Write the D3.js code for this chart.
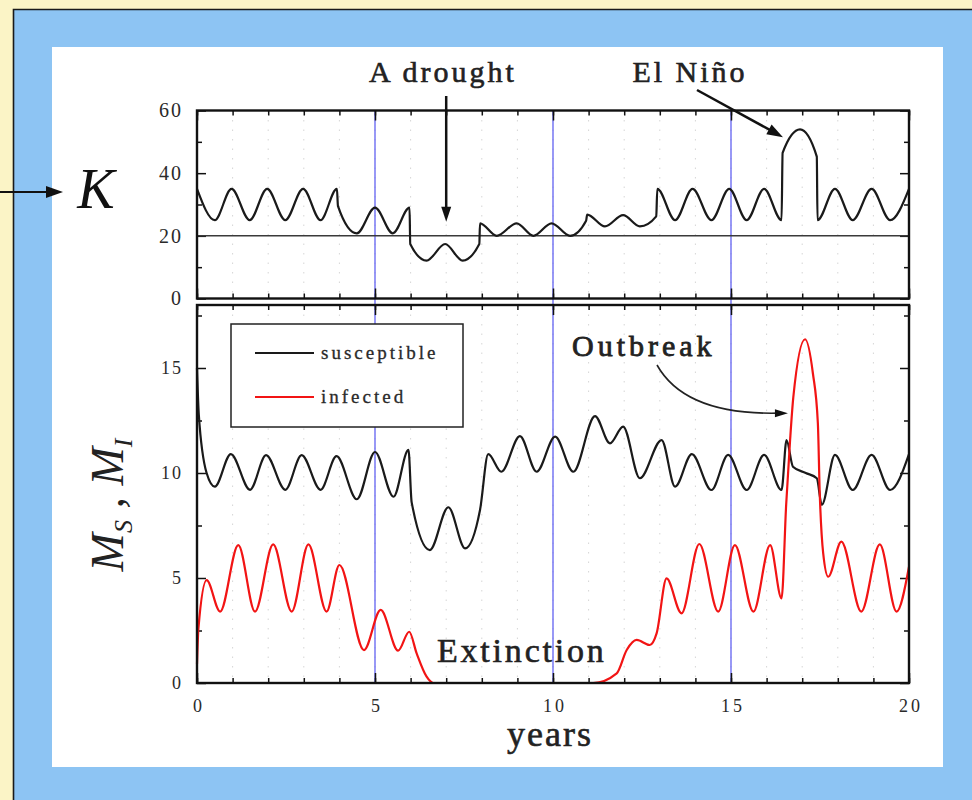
<!DOCTYPE html>
<html>
<head>
<meta charset="utf-8">
<script src="https://cdn.jsdelivr.net/npm/d3@7"></script>
<style>
  html, body { margin: 0; padding: 0; background: #fbf4c6; }
  svg { display: block; }
  text { font-family: "Liberation Serif", "Times New Roman", serif; }
</style>
</head>
<body>
<svg id="chart" width="972" height="800"></svg>
<script>
// Carrying capacity K(t) in years: drought between 6 and 8, El Niño around 16.5–17.4
const kYears  = [0, 0.5, 0.97, 1.48, 1.97, 2.48, 2.98, 3.47, 3.93, 3.96, 4.49, 5.0, 5.5, 5.97, 5.99,
                 6.45, 6.97, 7.46, 7.93, 7.95, 8.42, 8.98, 9.45, 9.96, 10.48, 10.93, 10.96, 11.46,
                 11.97, 12.44, 12.9, 12.93, 13.43, 13.92, 14.45, 14.95, 15.44, 15.93, 16.42, 16.45,
                 16.94, 17.41, 17.43, 17.92, 18.42, 18.95, 19.47, 20];
const kValues = [35, 25, 35, 25, 35, 25, 35, 25, 35, 29.5, 20.8, 29, 20.8, 29, 17.4,
                 12.1, 17.4, 12.1, 17.4, 24, 20, 24, 20, 24, 20, 24.8, 26.8, 23,
                 26.6, 23, 26.2, 35, 25, 35, 25, 35, 25, 35, 25, 46.5,
                 54, 45.3, 25, 35, 25, 35, 25, 35];

// Susceptible mosquitoes M_S
const susYears  = [0, 0.05, 0.27, 0.5, 0.95, 1.49, 1.94, 2.48, 2.94, 3.47, 3.92, 4.49, 5.0, 5.52,
                   5.94, 6.03, 6.54, 7.06, 7.53, 7.95, 8.18, 8.55, 9.07, 9.54, 10.06, 10.57, 11.18,
                   11.6, 11.97, 12.44, 13.05, 13.43, 13.9, 14.45, 14.92, 15.44, 15.93, 16.42, 16.56,
                   16.74, 17.1, 17.41, 17.55, 17.92, 18.42, 18.95, 19.47, 20];
const susValues = [15.0, 12.8, 10.0, 9.35, 10.9, 9.2, 10.85, 9.2, 10.85, 9.2, 10.8, 8.75, 11.0, 8.87,
                   11.1, 8.6, 6.33, 8.37, 6.41, 8.24, 10.9, 10.06, 11.76, 10.06, 11.73, 10.06, 12.71,
                   11.41, 12.21, 9.75, 11.57, 9.35, 10.9, 9.19, 10.86, 9.19, 10.86, 9.19, 11.57,
                   10.3, 10.0, 9.75, 8.48, 10.86, 9.19, 10.86, 9.19, 10.9];

// Infected mosquitoes M_I
const infYears  = [0, 0.04, 0.27, 0.65, 1.16, 1.63, 2.14, 2.66, 3.13, 3.64, 4.0, 4.69, 5.16, 5.65,
                   5.96, 6.17, 6.45, 6.64, 11.13, 11.79, 12.07, 12.35, 12.72, 12.91, 13.19, 13.61,
                   14.11, 14.64, 15.11, 15.63, 16.1, 16.42, 16.55, 16.66, 16.75, 17.08, 17.3, 17.44,
                   17.49, 17.59, 17.73, 18.1, 18.66, 19.18, 19.65, 20];
const infValues = [0.9, 2.6, 4.9, 3.4, 6.57, 3.4, 6.6, 3.4, 6.6, 3.4, 5.62, 1.57, 3.48, 1.54,
                   2.44, 1.41, 0.3, 0, 0, 0.46, 1.57, 2.05, 1.81, 2.36, 4.98, 3.32,
                   6.62, 3.4, 6.57, 3.4, 6.57, 4.03, 8.5, 11.57, 13.6, 16.37, 14.75, 12.37,
                   9.19, 6.17, 5.06, 6.73, 3.4, 6.6, 3.4, 5.54];

const seriesNames  = ["susceptible", "infected"];
const seriesColors = ["#1a1a1a", "#f21414"];

const kTicks       = [0, 20, 40, 60];
const kMinorTicks  = [10, 30, 50];
const mTicks       = [0, 5, 10, 15];
const mMinorTicks  = [2.5, 7.5, 12.5, 17.5];
const yearTicks    = [0, 5, 10, 15, 20];
const yearMinor    = d3.range(0, 21, 1);
const markerYears  = [5, 10, 15];
const kThreshold   = 20;

const svg = d3.select("#chart");

// ---- backdrop: pale frame, blue slide, white plot card
svg.append("rect").attr("width", 972).attr("height", 800).attr("fill", "#fbf4c6");
svg.append("rect").attr("x", 14).attr("y", 10).attr("width", 958).attr("height", 790).attr("fill", "#8dc4f3");
svg.append("path").attr("d", "M13.5,800V9.5H972").attr("fill", "none").attr("stroke", "#1a1a1a").attr("stroke-width", 1.6);
svg.append("rect").attr("x", 52).attr("y", 47).attr("width", 891).attr("height", 720).attr("fill", "#ffffff");

// ---- scales
const x  = d3.scaleLinear().domain([0, 20]).range([197, 909]);
const yK = d3.scaleLinear().domain([0, 60]).range([298.5, 110.5]);
const yM = d3.scaleLinear().domain([0, 18]).range([683, 305]);

// faint dotted year grid
const grid = svg.append("g").attr("stroke", "#d6d6d6").attr("stroke-width", 1).attr("stroke-dasharray", "1.5,8");
yearMinor.slice(1, -1).forEach(t => {
  grid.append("line").attr("x1", x(t)).attr("x2", x(t)).attr("y1", yK(60)).attr("y2", yK(0));
  grid.append("line").attr("x1", x(t)).attr("x2", x(t)).attr("y1", yM(18)).attr("y2", yM(0));
});

// blue marker lines every five years across both panels
svg.append("g").selectAll("line").data(markerYears).join("line")
  .attr("x1", d => x(d)).attr("x2", d => x(d))
  .attr("y1", yK(60)).attr("y2", yM(0))
  .attr("stroke", "#6262f2").attr("stroke-width", 1.3);

// ---- axes (inward ticks on all four sides of each panel)
function styleAxis(g) {
  g.select(".domain").remove();
  g.selectAll(".tick line").attr("stroke", "#111").attr("stroke-width", 1.5);
  g.selectAll(".tick text").attr("fill", "#2a2a2a").attr("font-family", "Liberation Serif, serif");
}
function panelAxes(yScale, major, minor, yLabelSize, showX) {
  const [y0, y1] = yScale.range();
  // left
  svg.append("g").attr("transform", `translate(${x(0)},0)`)
    .call(d3.axisLeft(yScale).tickValues(major).tickSize(-9).tickPadding(14).tickFormat(d3.format("d")))
    .call(styleAxis)
    .call(g => g.selectAll("text").attr("font-size", yLabelSize).attr("letter-spacing", 2));
  svg.append("g").attr("transform", `translate(${x(0)},0)`)
    .call(d3.axisLeft(yScale).tickValues(minor).tickSize(-5).tickFormat(""))
    .call(styleAxis);
  // right
  svg.append("g").attr("transform", `translate(${x(20)},0)`)
    .call(d3.axisRight(yScale).tickValues(major).tickSize(-9).tickFormat(""))
    .call(styleAxis);
  svg.append("g").attr("transform", `translate(${x(20)},0)`)
    .call(d3.axisRight(yScale).tickValues(minor).tickSize(-5).tickFormat(""))
    .call(styleAxis);
  // top
  svg.append("g").attr("transform", `translate(0,${y1})`)
    .call(d3.axisTop(x).tickValues(yearMinor).tickSize(-5).tickFormat(""))
    .call(styleAxis);
  svg.append("g").attr("transform", `translate(0,${y1})`)
    .call(d3.axisTop(x).tickValues(yearTicks).tickSize(-10).tickFormat(""))
    .call(styleAxis);
  // bottom
  svg.append("g").attr("transform", `translate(0,${y0})`)
    .call(d3.axisBottom(x).tickValues(yearMinor).tickSize(-5).tickFormat(""))
    .call(styleAxis);
  svg.append("g").attr("transform", `translate(0,${y0})`)
    .call(d3.axisBottom(x).tickValues(yearTicks).tickSize(-10).tickPadding(16)
      .tickFormat(showX ? d3.format("d") : ""))
    .call(styleAxis)
    .call(g => g.selectAll("text").attr("font-size", 18).attr("letter-spacing", 3).attr("dx", 1.5));
}
panelAxes(yK, kTicks, kMinorTicks, 20, false);
panelAxes(yM, mTicks, mMinorTicks, 18, true);

// K threshold line
svg.append("line")
  .attr("x1", x(0)).attr("x2", x(20)).attr("y1", yK(kThreshold)).attr("y2", yK(kThreshold))
  .attr("stroke", "#3a3a3a").attr("stroke-width", 1.5);

// ---- curves
const zip = (a, b) => a.map((t, i) => [t, b[i]]);
const lineK = d3.line().x(d => x(d[0])).y(d => yK(d[1])).curve(d3.curveMonotoneX);
const lineM = d3.line().x(d => x(d[0])).y(d => yM(d[1])).curve(d3.curveMonotoneX);

svg.append("path").datum(zip(kYears, kValues)).attr("d", lineK)
  .attr("fill", "none").attr("stroke", "#1a1a1a").attr("stroke-width", 2.2).attr("stroke-linejoin", "round");
svg.append("path").datum(zip(susYears, susValues)).attr("d", lineM)
  .attr("fill", "none").attr("stroke", seriesColors[0]).attr("stroke-width", 2.2).attr("stroke-linejoin", "round");
svg.append("path").datum(zip(infYears, infValues)).attr("d", lineM)
  .attr("fill", "none").attr("stroke", seriesColors[1]).attr("stroke-width", 2.2).attr("stroke-linejoin", "round");

// ---- panel frames (drawn over the curves so a zero level sits under the axis)
svg.append("rect").attr("x", x(0)).attr("y", yK(60)).attr("width", x(20) - x(0)).attr("height", yK(0) - yK(60))
  .attr("fill", "none").attr("stroke", "#111").attr("stroke-width", 2.4);
svg.append("rect").attr("x", x(0)).attr("y", yM(18)).attr("width", x(20) - x(0)).attr("height", yM(0) - yM(18))
  .attr("fill", "none").attr("stroke", "#111").attr("stroke-width", 2.4);

// ---- legend
const legend = svg.append("g");
legend.append("rect").attr("x", 231).attr("y", 324).attr("width", 232).attr("height", 103)
  .attr("fill", "#fff").attr("stroke", "#222").attr("stroke-width", 1.5);
seriesNames.forEach((name, i) => {
  const ly = 353 + i * 44;
  legend.append("line").attr("x1", 255).attr("x2", 314).attr("y1", ly).attr("y2", ly)
    .attr("stroke", seriesColors[i]).attr("stroke-width", 2);
  legend.append("text").attr("x", 321).attr("y", ly).attr("dy", "0.32em")
    .attr("font-size", 19).attr("letter-spacing", 3).attr("fill", "#2a2a2a")
    .attr("stroke", "#2a2a2a").attr("stroke-width", 0.3).text(name);
});

// ---- axis titles
const heavy = g => g.attr("stroke", "#222").attr("stroke-width", 0.6);
svg.append("text").attr("x", 550).attr("y", 746).attr("text-anchor", "middle")
  .attr("font-size", 36).attr("letter-spacing", 2).attr("fill", "#222").call(heavy).text("years");

const ml = svg.append("text").attr("transform", "translate(123,505) rotate(-90)")
  .attr("text-anchor", "middle").attr("font-style", "italic").attr("font-size", 46).attr("fill", "#222");
ml.append("tspan").text("M");
ml.append("tspan").attr("font-size", 26).attr("dy", 9).text("S");
ml.append("tspan").attr("dy", -9).text(" , M");
ml.append("tspan").attr("font-size", 26).attr("dy", 9).text("I");

svg.append("text").attr("x", 96).attr("y", 208).attr("text-anchor", "middle")
  .attr("font-style", "italic").attr("font-size", 56).attr("fill", "#111").text("K");

// ---- arrows
function arrowHead(tipX, tipY, fromX, fromY, len, half) {
  const a = Math.atan2(tipY - fromY, tipX - fromX);
  const bx = tipX - len * Math.cos(a), by = tipY - len * Math.sin(a);
  const px = -Math.sin(a) * half, py = Math.cos(a) * half;
  svg.append("path")
    .attr("d", `M${tipX},${tipY}L${bx + px},${by + py}L${bx - px},${by - py}Z`)
    .attr("fill", "#111");
}
// K pointer
svg.append("line").attr("x1", 0).attr("x2", 50).attr("y1", 192).attr("y2", 192)
  .attr("stroke", "#111").attr("stroke-width", 2.2);
arrowHead(63, 192, 0, 192, 17, 6);

// drought
const annFont = g => g.attr("font-size", 30).attr("fill", "#222").call(heavy);
svg.append("text").attr("x", 443).attr("y", 82).attr("text-anchor", "middle")
  .attr("letter-spacing", 3).call(annFont).text("A drought");
const dX = x(7), dTip = yK(24.5);
svg.append("line").attr("x1", dX).attr("x2", dX).attr("y1", 96).attr("y2", dTip - 10)
  .attr("stroke", "#111").attr("stroke-width", 2.5);
arrowHead(dX, dTip, dX, 96, 15, 5);

// El Niño
svg.append("text").attr("x", 690).attr("y", 82).attr("text-anchor", "middle")
  .attr("letter-spacing", 3).call(annFont).text("El Niño");
const nTipX = x(16.46), nTipY = yK(51.5);
svg.append("line").attr("x1", 697).attr("y1", 90).attr("x2", nTipX - 10).attr("y2", nTipY - 5.5)
  .attr("stroke", "#111").attr("stroke-width", 2.5);
arrowHead(nTipX, nTipY, 697, 90, 16, 5.5);

// Outbreak
svg.append("text").attr("x", 572).attr("y", 356)
  .attr("letter-spacing", 4).call(annFont).attr("stroke-width", 0.8).text("Outbreak");
const oTipX = x(16.6), oTipY = yM(12.85);
svg.append("path").attr("d", `M657,365Q685,415 ${oTipX - 10},${oTipY}`)
  .attr("fill", "none").attr("stroke", "#222").attr("stroke-width", 1.6);
arrowHead(oTipX, oTipY, oTipX - 20, oTipY, 13, 4);

// Extinction
svg.append("text").attr("x", 437).attr("y", 662)
  .attr("font-size", 34).attr("letter-spacing", 2.8).attr("fill", "#222").call(heavy).text("Extinction");
</script>
</body>
</html>
